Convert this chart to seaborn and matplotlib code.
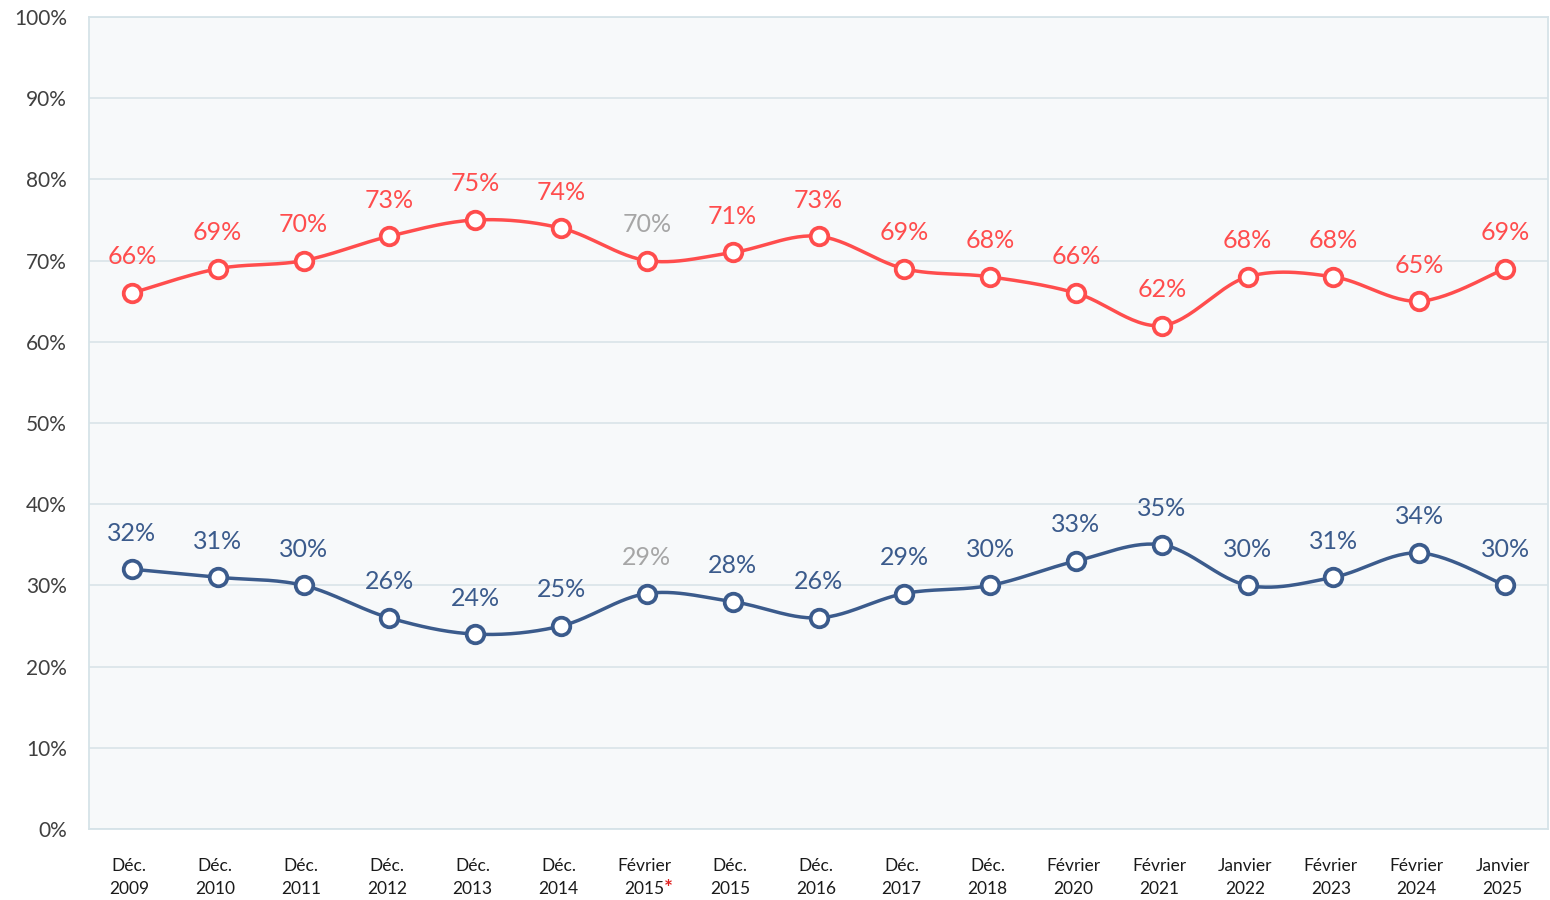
import numpy as np
import pandas as pd
import matplotlib
matplotlib.use("Agg")
import matplotlib.pyplot as plt
import seaborn as sns

categories = ["Déc.\n2009", "Déc.\n2010", "Déc.\n2011", "Déc.\n2012", "Déc.\n2013", "Déc.\n2014",
              "Février\n2015", "Déc.\n2015", "Déc.\n2016", "Déc.\n2017", "Déc.\n2018",
              "Février\n2020", "Février\n2021", "Janvier\n2022", "Février\n2023", "Février\n2024",
              "Janvier\n2025"]
red_values = [66, 69, 70, 73, 75, 74, 70, 71, 73, 69, 68, 66, 62, 68, 68, 65, 69]
blue_values = [32, 31, 30, 26, 24, 25, 29, 28, 26, 29, 30, 33, 35, 30, 31, 34, 30]
gray_index = 6

RED = "#FF4D4D"
BLUE = "#3B5B8C"
GRAY = "#A6A6A6"

sns.set_theme(style="white")
plt.rcParams["font.family"] = ["Lato", "DejaVu Sans"]

fig = plt.figure(figsize=(15.5, 9), dpi=100)
ax = fig.add_axes([89/1550, 1-829/900, (1548-89)/1550, (829-17)/900])
ax.set_facecolor("#F7F9FA")


def smooth(xs, ys, n=30):
    # Catmull-Rom style smoothing (Excel-like) between the data points
    xs = np.asarray(xs, float); ys = np.asarray(ys, float)
    px = np.concatenate([[xs[0]], xs, [xs[-1]]])
    py = np.concatenate([[ys[0]], ys, [ys[-1]]])
    ox, oy = [], []
    for i in range(1, len(px) - 2):
        p0 = np.array([px[i-1], py[i-1]]); p1 = np.array([px[i], py[i]])
        p2 = np.array([px[i+1], py[i+1]]); p3 = np.array([px[i+2], py[i+2]])
        c1 = p1 + (p2 - p0) / 6
        c2 = p2 - (p3 - p1) / 6
        t = np.linspace(0, 1, n)[:, None]
        b = (1-t)**3*p1 + 3*(1-t)**2*t*c1 + 3*(1-t)*t**2*c2 + t**3*p2
        ox.extend(b[:, 0]); oy.extend(b[:, 1])
    return np.array(ox), np.array(oy)

x = np.arange(len(categories))
for vals, col in [(red_values, RED), (blue_values, BLUE)]:
    sx, sy = smooth(x, vals)
    sns.lineplot(x=sx, y=sy, ax=ax, color=col, linewidth=2.5, sort=False, estimator=None, zorder=3)
    sns.scatterplot(x=x, y=vals, ax=ax, s=160, color="white", edgecolor=col, linewidth=2.7, zorder=4)
    for i, v in enumerate(vals):
        c = GRAY if i == gray_index else col
        ax.annotate(f"{v}%", (i, v), xytext=(0, 26), textcoords="offset points",
                    ha="center", va="center", fontsize=18, color=c)

ax.set_xlim(-0.5, len(categories) - 0.5)
ax.set_ylim(0, 100)
ax.set_yticks(range(0, 101, 10))
ax.set_yticklabels([f"{v}%" for v in range(0, 101, 10)], fontsize=15, color="#404040")
ax.set_xticks(x)
ax.set_xticklabels([])
ax.tick_params(axis="both", length=0)
ax.tick_params(axis="y", pad=16)
ax.grid(axis="y", color="#DCE6EA", linewidth=1.3)
ax.set_axisbelow(True)
for s in ax.spines.values():
    s.set_color("#D6E3E8")
    s.set_linewidth(1.3)

for i, lab in enumerate(categories):
    top, bottom = lab.split("\n")
    xpos = i - 0.03
    ax.text(xpos, -4.55, top, ha="center", va="center", fontsize=12.5, color="#1A1A1A",
            clip_on=False)
    if i == gray_index:
        t = ax.annotate(bottom, (xpos, -7.4), ha="center", va="center", fontsize=12.5,
                        color="#1A1A1A", annotation_clip=False)
        ax.annotate("*", xy=(1, 0.5), xycoords=t, xytext=(0, 0), textcoords="offset points",
                    ha="left", va="center", fontsize=15, color="#E02020", fontweight="bold",
                    annotation_clip=False)
    else:
        ax.text(xpos, -7.4, bottom, ha="center", va="center", fontsize=12.5, color="#1A1A1A",
                clip_on=False)
ax.set_xlabel("")
ax.set_ylabel("")

fig.savefig("out.png", dpi=100)
